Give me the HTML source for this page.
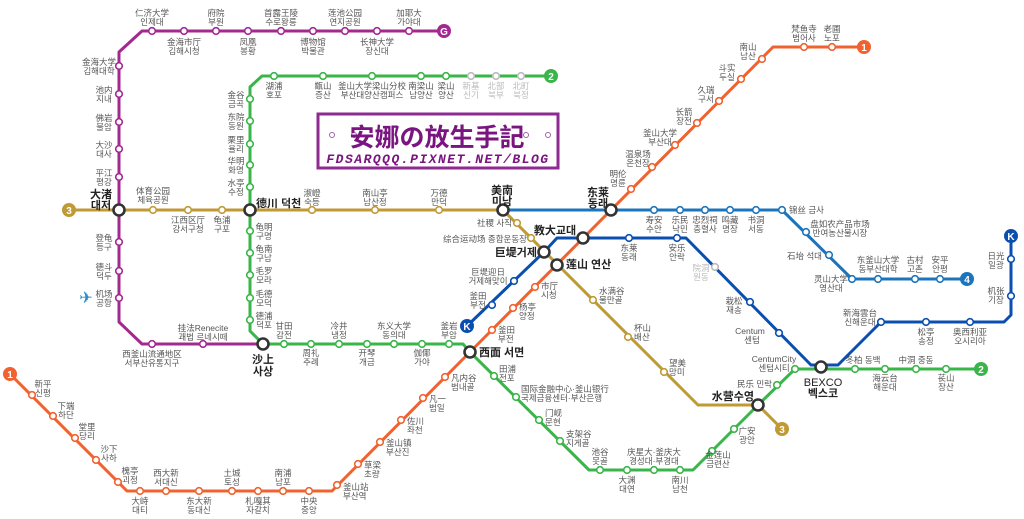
<!DOCTYPE html>
<html><head><meta charset="utf-8"><style>
html,body{margin:0;padding:0;background:#fff}
svg{display:block}
text{font-family:"Liberation Sans","Noto Sans CJK SC","Noto Sans CJK KR",sans-serif;font-size:8.5px;fill:#555;text-anchor:middle}
.e{text-anchor:end}.s{text-anchor:start}
.b{font-size:11px;font-weight:bold;fill:#222}
.g{fill:#bbb}
.st{fill:#fff;stroke-width:1.6}
.ix{fill:#fff;stroke:#333;stroke-width:2.6}
.ln{fill:none;stroke-width:3;stroke-linejoin:round}
.n{font-size:10px;font-weight:bold;fill:#fff}
</style></head><body>
<svg width="1024" height="519" viewBox="0 0 1024 519">
<!-- Lines -->
<polyline class="ln" stroke="#a3288f" points="444,31 142,31 119,52 119,322 142,344 263,344"/>
<polyline class="ln" stroke="#3ab54a" points="551,76 262,76 250,87 250,331 263,344 463,344 470,352 589,470 693,470 758,405 795,369 981,369"/>
<polyline class="ln" stroke="#f0622f" points="864,47 773,47 470,352 332,491 127,491 10,374"/>
<polyline class="ln" stroke="#bf9a35" points="69,210 503,210 698,405 758,405 782,429"/>
<polyline class="ln" stroke="#1c75bc" points="503,210 782,210 852,279 967,279"/>
<polyline class="ln" stroke="#0a4fb0" points="467,326 544,252 557,238 686,238 811,365 838,365 881,322 1004,322 1011,315 1011,236"/>
<!-- end markers -->
<circle cx="444" cy="31" r="7" fill="#a3288f"/><text class="n" x="444" y="35">G</text>
<circle cx="551" cy="76" r="7" fill="#3ab54a"/><text class="n" x="551" y="80">2</text>
<circle cx="981" cy="369" r="7" fill="#3ab54a"/><text class="n" x="981" y="373">2</text>
<circle cx="864" cy="47" r="7" fill="#f0622f"/><text class="n" x="864" y="51">1</text>
<circle cx="10" cy="374" r="7" fill="#f0622f"/><text class="n" x="10" y="378">1</text>
<circle cx="69" cy="210" r="7" fill="#bf9a35"/><text class="n" x="69" y="214">3</text>
<circle cx="782" cy="429" r="7" fill="#bf9a35"/><text class="n" x="782" y="433">3</text>
<circle cx="967" cy="279" r="7" fill="#1c75bc"/><text class="n" x="967" y="283">4</text>
<circle cx="467" cy="326" r="7" fill="#0a4fb0"/><text class="n" x="467" y="330">K</text>
<circle cx="1011" cy="236" r="7" fill="#0a4fb0"/><text class="n" x="1011" y="240">K</text>
<!-- stations G -->
<g stroke="#a3288f" class="st">
<circle cx="152" cy="31" r="3.3"/><circle cx="184" cy="31" r="3.3"/><circle cx="216" cy="31" r="3.3"/><circle cx="248" cy="31" r="3.3"/><circle cx="281" cy="31" r="3.3"/><circle cx="313" cy="31" r="3.3"/><circle cx="345" cy="31" r="3.3"/><circle cx="377" cy="31" r="3.3"/><circle cx="409" cy="31" r="3.3"/>
<circle cx="119" cy="66" r="3.3"/><circle cx="119" cy="94" r="3.3"/><circle cx="119" cy="122" r="3.3"/><circle cx="119" cy="149" r="3.3"/><circle cx="119" cy="177" r="3.3"/><circle cx="119" cy="242" r="3.3"/><circle cx="119" cy="271" r="3.3"/><circle cx="119" cy="298" r="3.3"/>
<circle cx="152" cy="344" r="3.3"/><circle cx="203" cy="344" r="3.3"/>
</g>
<g stroke="#3ab54a" class="st">
<circle cx="274" cy="76" r="3.3"/><circle cx="323" cy="76" r="3.3"/><circle cx="372" cy="76" r="3.3"/><circle cx="421" cy="76" r="3.3"/><circle cx="446" cy="76" r="3.3"/>
<circle cx="250" cy="99" r="3.3"/><circle cx="250" cy="121" r="3.3"/><circle cx="250" cy="144" r="3.3"/><circle cx="250" cy="165" r="3.3"/><circle cx="250" cy="187" r="3.3"/><circle cx="250" cy="231" r="3.3"/><circle cx="250" cy="253" r="3.3"/><circle cx="250" cy="275" r="3.3"/><circle cx="250" cy="298" r="3.3"/><circle cx="250" cy="320" r="3.3"/>
<circle cx="284" cy="344" r="3.3"/><circle cx="311" cy="344" r="3.3"/><circle cx="339" cy="344" r="3.3"/><circle cx="367" cy="344" r="3.3"/><circle cx="394" cy="344" r="3.3"/><circle cx="422" cy="344" r="3.3"/><circle cx="449" cy="344" r="3.3"/>
<circle cx="494" cy="376" r="3.3"/><circle cx="516" cy="397" r="3.3"/><circle cx="539" cy="420" r="3.3"/><circle cx="560" cy="441" r="3.3"/>
<circle cx="600" cy="470" r="3.3"/><circle cx="627" cy="470" r="3.3"/><circle cx="654" cy="470" r="3.3"/><circle cx="680" cy="470" r="3.3"/>
<circle cx="712" cy="451" r="3.3"/><circle cx="734" cy="429" r="3.3"/><circle cx="777" cy="385" r="3.3"/><circle cx="795" cy="369" r="3.3"/>
<circle cx="855" cy="369" r="3.3"/><circle cx="885" cy="369" r="3.3"/><circle cx="916" cy="369" r="3.3"/><circle cx="946" cy="369" r="3.3"/>
</g>
<g stroke="#bbb" class="st"><circle cx="471" cy="76" r="3.3"/><circle cx="496" cy="76" r="3.3"/><circle cx="521" cy="76" r="3.3"/><circle cx="715" cy="267" r="3.3"/></g>
<g stroke="#f0622f" class="st">
<circle cx="804" cy="47" r="3.3"/><circle cx="832" cy="47" r="3.3"/>
<circle cx="762" cy="59" r="3.3"/><circle cx="741" cy="79" r="3.3"/><circle cx="719" cy="101" r="3.3"/><circle cx="697" cy="123" r="3.3"/><circle cx="675" cy="145" r="3.3"/><circle cx="652" cy="167" r="3.3"/><circle cx="631" cy="189" r="3.3"/>
<circle cx="535" cy="287" r="3.3"/><circle cx="513" cy="308" r="3.3"/><circle cx="492" cy="330" r="3.3"/>
<circle cx="445" cy="377" r="3.3"/><circle cx="423" cy="398" r="3.3"/><circle cx="401" cy="420" r="3.3"/><circle cx="380" cy="442" r="3.3"/><circle cx="358" cy="464" r="3.3"/><circle cx="337" cy="485" r="3.3"/>
<circle cx="140" cy="491" r="3.3"/><circle cx="166" cy="491" r="3.3"/><circle cx="199" cy="491" r="3.3"/><circle cx="232" cy="491" r="3.3"/><circle cx="258" cy="491" r="3.3"/><circle cx="283" cy="491" r="3.3"/><circle cx="309" cy="491" r="3.3"/>
<circle cx="118" cy="482" r="3.3"/><circle cx="96" cy="460" r="3.3"/><circle cx="75" cy="438" r="3.3"/><circle cx="53" cy="416" r="3.3"/><circle cx="32" cy="395" r="3.3"/>
</g>
<g stroke="#bf9a35" class="st">
<circle cx="153" cy="210" r="3.3"/><circle cx="188" cy="210" r="3.3"/><circle cx="222" cy="210" r="3.3"/><circle cx="312" cy="210" r="3.3"/><circle cx="375" cy="210" r="3.3"/><circle cx="439" cy="210" r="3.3"/>
<circle cx="517" cy="223" r="3.3"/><circle cx="531" cy="238" r="3.3"/><circle cx="593" cy="300" r="3.3"/><circle cx="628" cy="337" r="3.3"/><circle cx="664" cy="372" r="3.3"/>
</g>
<g stroke="#1c75bc" class="st">
<circle cx="654" cy="210" r="3.3"/><circle cx="680" cy="210" r="3.3"/><circle cx="705" cy="210" r="3.3"/><circle cx="730" cy="210" r="3.3"/><circle cx="756" cy="210" r="3.3"/><circle cx="782" cy="210" r="3.3"/>
<circle cx="806" cy="232" r="3.3"/><circle cx="829" cy="255" r="3.3"/><circle cx="852" cy="279" r="3.3"/><circle cx="878" cy="279" r="3.3"/><circle cx="915" cy="279" r="3.3"/><circle cx="940" cy="279" r="3.3"/>
</g>
<g stroke="#0a4fb0" class="st">
<circle cx="492" cy="305" r="3.3"/><circle cx="514" cy="281" r="3.3"/><circle cx="629" cy="238" r="3.3"/><circle cx="677" cy="238" r="3.3"/><circle cx="750" cy="302" r="3.3"/><circle cx="779" cy="333" r="3.3"/>
<circle cx="881" cy="322" r="3.3"/><circle cx="926" cy="322" r="3.3"/><circle cx="970" cy="322" r="3.3"/><circle cx="1011" cy="259" r="3.3"/><circle cx="1011" cy="296" r="3.3"/>
</g>
<!-- interchanges -->
<g class="ix">
<circle cx="119" cy="210" r="5.5"/><circle cx="250" cy="210" r="5.5"/><circle cx="263" cy="344" r="5.5"/><circle cx="470" cy="352" r="5.5"/><circle cx="503" cy="210" r="5.5"/><circle cx="611" cy="210" r="5.5"/><circle cx="583" cy="238" r="5.5"/><circle cx="544" cy="252" r="5.5"/><circle cx="557" cy="265" r="5.5"/><circle cx="758" cy="405" r="5.5"/><circle cx="821" cy="367" r="5.5"/>
</g>
<!-- title box -->
<rect x="318" y="114" width="240" height="54" fill="#fff" stroke="#8e2a90" stroke-width="3"/>
<g fill="none" stroke="#a060a8" stroke-width="1"><circle cx="332" cy="135" r="2.5"/><circle cx="354" cy="135" r="2.5"/><circle cx="526" cy="135" r="2.5"/><circle cx="548" cy="135" r="2.5"/></g>
<text x="437" y="146" style="font-size:25px;font-weight:bold;fill:#7a1480">安娜の放生手記</text>
<text x="438" y="163" style="font-size:13px;font-weight:bold;font-style:italic;fill:#7a1480;letter-spacing:1.5px;font-family:'Liberation Mono',monospace">FDSARQQQ.PIXNET.NET/BLOG</text>
<!-- airplane -->
<text x="86" y="303" style="font-size:16px;fill:#2a8ad0">✈</text>
<!-- Labels G -->
<text x="152" y="16">仁济大学<tspan x="152" dy="9">인제대</tspan></text>
<text x="216" y="16">府院<tspan x="216" dy="9">부원</tspan></text>
<text x="281" y="16">首露王陵<tspan x="281" dy="9">수로왕릉</tspan></text>
<text x="345" y="16">莲池公园<tspan x="345" dy="9">연지공원</tspan></text>
<text x="409" y="16">加耶大<tspan x="409" dy="9">가야대</tspan></text>
<text x="184" y="45">金海市厅<tspan x="184" dy="9">김해시청</tspan></text>
<text x="248" y="45">凤凰<tspan x="248" dy="9">봉황</tspan></text>
<text x="313" y="45">博物馆<tspan x="313" dy="9">박물관</tspan></text>
<text x="377" y="45">长神大学<tspan x="377" dy="9">장신대</tspan></text>
<text x="99" y="65">金海大学<tspan x="99" dy="9">김해대학</tspan></text>
<text x="104" y="93">池内<tspan x="104" dy="9">지내</tspan></text>
<text x="104" y="121">佛岩<tspan x="104" dy="9">불암</tspan></text>
<text x="104" y="148">大沙<tspan x="104" dy="9">대사</tspan></text>
<text x="104" y="176">平江<tspan x="104" dy="9">평강</tspan></text>
<text class="b" x="101" y="198">大渚<tspan x="101" dy="11">대저</tspan></text>
<text x="104" y="241">登龟<tspan x="104" dy="9">등구</tspan></text>
<text x="104" y="270">德斗<tspan x="104" dy="9">덕두</tspan></text>
<text x="104" y="297">机场<tspan x="104" dy="9">공항</tspan></text>
<text x="203" y="331">挂法Renecite<tspan x="203" dy="9">괘법 르네시떼</tspan></text>
<text x="152" y="357">西釜山流通地区<tspan x="152" dy="9">서부산유통지구</tspan></text>
<!-- Labels 2 -->
<text x="274" y="89">湖浦<tspan x="274" dy="9">호포</tspan></text>
<text x="323" y="89">甑山<tspan x="323" dy="9">증산</tspan></text>
<text x="372" y="89">釜山大学梁山分校<tspan x="372" dy="9">부산대양산캠퍼스</tspan></text>
<text x="421" y="89">南梁山<tspan x="421" dy="9">남양산</tspan></text>
<text x="446" y="89">梁山<tspan x="446" dy="9">양산</tspan></text>
<text class="g" x="471" y="89">新基<tspan x="471" dy="9">신기</tspan></text>
<text class="g" x="496" y="89">北部<tspan x="496" dy="9">북부</tspan></text>
<text class="g" x="521" y="89">北町<tspan x="521" dy="9">북정</tspan></text>
<text x="236" y="98">金谷<tspan x="236" dy="9">금곡</tspan></text>
<text x="236" y="120">东院<tspan x="236" dy="9">동원</tspan></text>
<text x="236" y="143">栗里<tspan x="236" dy="9">율리</tspan></text>
<text x="236" y="164">华明<tspan x="236" dy="9">화명</tspan></text>
<text x="236" y="186">水亭<tspan x="236" dy="9">수정</tspan></text>
<text class="b s" x="256" y="207">德川 덕천</text>
<text x="264" y="230">龟明<tspan x="264" dy="9">구명</tspan></text>
<text x="264" y="252">龟南<tspan x="264" dy="9">구남</tspan></text>
<text x="264" y="274">毛罗<tspan x="264" dy="9">모라</tspan></text>
<text x="264" y="297">毛德<tspan x="264" dy="9">모덕</tspan></text>
<text x="264" y="319">德浦<tspan x="264" dy="9">덕포</tspan></text>
<text class="b" x="263" y="363">沙上<tspan x="263" dy="12">사상</tspan></text>
<text x="284" y="329">甘田<tspan x="284" dy="9">감전</tspan></text>
<text x="339" y="329">冷井<tspan x="339" dy="9">냉정</tspan></text>
<text x="394" y="329">东义大学<tspan x="394" dy="9">동의대</tspan></text>
<text x="449" y="329">釜岩<tspan x="449" dy="9">부암</tspan></text>
<text x="311" y="356">周礼<tspan x="311" dy="9">주례</tspan></text>
<text x="367" y="356">开琴<tspan x="367" dy="9">개금</tspan></text>
<text x="422" y="356">伽倻<tspan x="422" dy="9">가야</tspan></text>
<text class="b s" x="479" y="356">西面 서면</text>
<text class="s" x="499" y="372">田浦<tspan x="499" dy="9">전포</tspan></text>
<text class="s" x="521" y="392">国际金融中心·釜山银行<tspan x="521" dy="9">국제금융센터·부산은행</tspan></text>
<text class="s" x="545" y="416">门岘<tspan x="545" dy="9">문현</tspan></text>
<text class="s" x="566" y="437">支架谷<tspan x="566" dy="9">지게골</tspan></text>
<text x="600" y="455">池谷<tspan x="600" dy="9">못골</tspan></text>
<text x="654" y="455">庆星大·釜庆大<tspan x="654" dy="9">경성대·부경대</tspan></text>
<text x="627" y="483">大渊<tspan x="627" dy="9">대연</tspan></text>
<text x="680" y="483">南川<tspan x="680" dy="9">남천</tspan></text>
<text x="718" y="458">金莲山<tspan x="718" dy="9">금련산</tspan></text>
<text x="747" y="434">广安<tspan x="747" dy="9">광안</tspan></text>
<text class="b e" x="754" y="400">水营수영</text>
<text class="e" x="772" y="387">民乐 민락</text>
<text x="774" y="362">CentumCity<tspan x="774" dy="9">센텀시티</tspan></text>
<text x="823" y="386" style="font-size:11px;fill:#222">BEXCO<tspan x="823" dy="11" style="font-weight:bold">벡스코</tspan></text>
<text x="863" y="363">冬柏 동백</text>
<text x="916" y="363">中洞 중동</text>
<text x="885" y="381">海云台<tspan x="885" dy="9">해운대</tspan></text>
<text x="946" y="381">苌山<tspan x="946" dy="9">장산</tspan></text>
<!-- Labels 1 -->
<text x="804" y="32">梵鱼寺<tspan x="804" dy="9">범어사</tspan></text>
<text x="832" y="32">老圃<tspan x="832" dy="9">노포</tspan></text>
<text x="748" y="50">南山<tspan x="748" dy="9">남산</tspan></text>
<text x="727" y="71">斗实<tspan x="727" dy="9">두실</tspan></text>
<text x="706" y="93">久瑞<tspan x="706" dy="9">구서</tspan></text>
<text x="684" y="115">长箭<tspan x="684" dy="9">장전</tspan></text>
<text x="660" y="136">釜山大学<tspan x="660" dy="9">부산대</tspan></text>
<text x="638" y="157">温泉场<tspan x="638" dy="9">온천장</tspan></text>
<text x="618" y="177">明伦<tspan x="618" dy="9">명륜</tspan></text>
<text class="b" x="598" y="196">东莱<tspan x="598" dy="11">동래</tspan></text>
<text class="b" x="555" y="234">教大교대</text>
<text class="b s" x="566" y="268">莲山 연산</text>
<text class="s" x="541" y="289">市厅<tspan x="541" dy="9">시청</tspan></text>
<text class="s" x="519" y="310">杨亭<tspan x="519" dy="9">양정</tspan></text>
<text class="s" x="498" y="333">釜田<tspan x="498" dy="9">부전</tspan></text>
<text class="s" x="451" y="381">凡内谷<tspan x="451" dy="9">범내골</tspan></text>
<text class="s" x="429" y="402">凡一<tspan x="429" dy="9">범일</tspan></text>
<text class="s" x="407" y="424">佐川<tspan x="407" dy="9">좌천</tspan></text>
<text class="s" x="386" y="446">釜山镇<tspan x="386" dy="9">부산진</tspan></text>
<text class="s" x="364" y="468">草梁<tspan x="364" dy="9">초량</tspan></text>
<text class="s" x="343" y="490">釜山站<tspan x="343" dy="9">부산역</tspan></text>
<text x="140" y="504">大峙<tspan x="140" dy="9">대티</tspan></text>
<text x="199" y="504">东大新<tspan x="199" dy="9">동대신</tspan></text>
<text x="258" y="504">札嘎其<tspan x="258" dy="9">자갈치</tspan></text>
<text x="309" y="504">中央<tspan x="309" dy="9">중앙</tspan></text>
<text x="166" y="476">西大新<tspan x="166" dy="9">서대신</tspan></text>
<text x="232" y="476">土城<tspan x="232" dy="9">토성</tspan></text>
<text x="283" y="476">南浦<tspan x="283" dy="9">남포</tspan></text>
<text x="43" y="387">新平<tspan x="43" dy="9">신평</tspan></text>
<text x="66" y="409">下端<tspan x="66" dy="9">하단</tspan></text>
<text x="87" y="430">堂里<tspan x="87" dy="9">당리</tspan></text>
<text x="109" y="452">沙下<tspan x="109" dy="9">사하</tspan></text>
<text x="130" y="474">槐亭<tspan x="130" dy="9">괴정</tspan></text>
<!-- Labels 3 -->
<text x="153" y="194">体育公园<tspan x="153" dy="9">체육공원</tspan></text>
<text x="188" y="223">江西区厅<tspan x="188" dy="9">강서구청</tspan></text>
<text x="222" y="223">龟浦<tspan x="222" dy="9">구포</tspan></text>
<text x="312" y="196">淑嶝<tspan x="312" dy="9">숙등</tspan></text>
<text x="375" y="196">南山亭<tspan x="375" dy="9">남산정</tspan></text>
<text x="439" y="196">万德<tspan x="439" dy="9">만덕</tspan></text>
<text class="b" x="502" y="194">美南<tspan x="502" dy="11">미남</tspan></text>
<text class="e" x="512" y="226">社稷 사직</text>
<text class="e" x="527" y="242">综合运动场 종합운동장</text>
<text class="b e" x="537" y="256">巨堤거제</text>
<text class="s" x="599" y="294">水满谷<tspan x="599" dy="9">물만골</tspan></text>
<text class="s" x="634" y="331">杯山<tspan x="634" dy="9">배산</tspan></text>
<text class="s" x="669" y="366">望美<tspan x="669" dy="9">망미</tspan></text>
<!-- Labels 4 -->
<text x="654" y="223">寿安<tspan x="654" dy="9">수안</tspan></text>
<text x="680" y="223">乐民<tspan x="680" dy="9">낙민</tspan></text>
<text x="705" y="223">忠烈祠<tspan x="705" dy="9">충렬사</tspan></text>
<text x="730" y="223">鸣藏<tspan x="730" dy="9">명장</tspan></text>
<text x="756" y="223">书洞<tspan x="756" dy="9">서동</tspan></text>
<text class="s" x="789" y="213">锦丝 금사</text>
<text x="840" y="227">盘如农产品市场<tspan x="840" dy="9">반여농산물시장</tspan></text>
<text class="e" x="822" y="259">石坮 석대</text>
<text x="831" y="282">灵山大学<tspan x="831" dy="9">영산대</tspan></text>
<text x="878" y="263">东釜山大学<tspan x="878" dy="9">동부산대학</tspan></text>
<text x="915" y="263">古村<tspan x="915" dy="9">고촌</tspan></text>
<text x="940" y="263">安平<tspan x="940" dy="9">안평</tspan></text>
<!-- Labels K -->
<text x="488" y="275">巨堤迎日<tspan x="488" dy="9">거제해맞이</tspan></text>
<text x="478" y="299">釜田<tspan x="478" dy="9">부전</tspan></text>
<text x="629" y="251">东莱<tspan x="629" dy="9">동래</tspan></text>
<text x="677" y="251">安乐<tspan x="677" dy="9">안락</tspan></text>
<text class="g" x="701" y="271">院洞<tspan x="701" dy="9">원동</tspan></text>
<text x="734" y="304">栽松<tspan x="734" dy="9">재송</tspan></text>
<text x="750" y="334">Centum<tspan x="752" dy="9">센텀</tspan></text>
<text x="860" y="316">新海雲台<tspan x="860" dy="9">신해운대</tspan></text>
<text x="926" y="335">松亭<tspan x="926" dy="9">송정</tspan></text>
<text x="970" y="335">奥西利亚<tspan x="970" dy="9">오시리아</tspan></text>
<text x="996" y="259">日光<tspan x="996" dy="9">일광</tspan></text>
<text x="996" y="294">机张<tspan x="996" dy="9">기장</tspan></text>
</svg>
</body></html>
